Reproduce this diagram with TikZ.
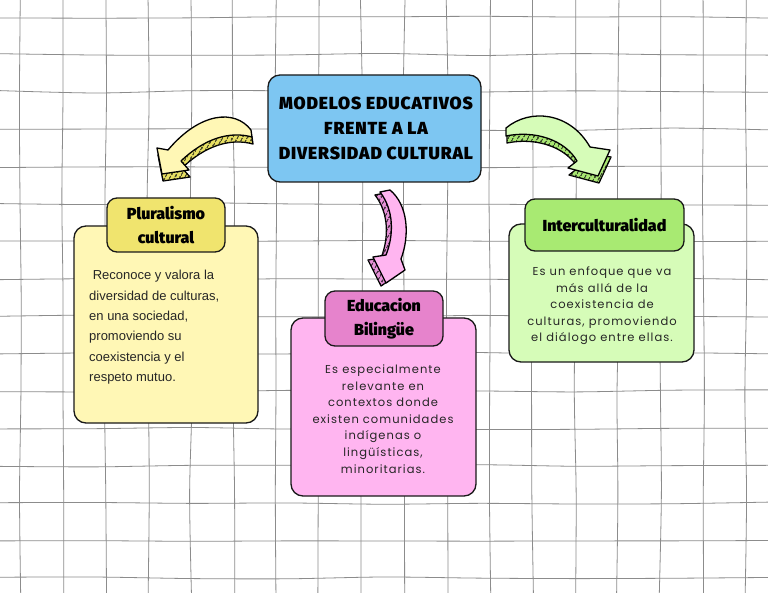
\documentclass[tikz,border=0pt]{standalone}
\usepackage{fontspec}
\setmainfont{Liberation Sans}
\IfFontExistsTF{Fira Sans Black}
  {\newfontfamily\headfont{Fira Sans Black}\newfontfamily\titlefont{Fira Sans Black}[LetterSpace=5]}
  {\newfontfamily\headfont{Fira Sans}[UprightFont={* Bold}]\newfontfamily\titlefont{Fira Sans}[UprightFont={* Bold},LetterSpace=5]}
\newfontfamily\notefont{Poppins}[LetterSpace=9]
\usepackage{tikz}
\usetikzlibrary{positioning,patterns.meta}

\definecolor{titleblue}{RGB}{125,198,242}
\definecolor{plurtab}{RGB}{240,228,110}
\definecolor{plurbody}{RGB}{255,247,181}
\definecolor{edutab}{RGB}{230,131,204}
\definecolor{edubody}{RGB}{255,181,240}
\definecolor{intertab}{RGB}{168,234,114}
\definecolor{interbody}{RGB}{214,252,184}
\definecolor{yside}{RGB}{232,224,96}
\definecolor{gside}{RGB}{168,232,112}
\definecolor{pside}{RGB}{232,144,216}

% arrow outlines, in picture pixels
\newcommand\yellowshape{(251,130) .. controls (235,109) and (200,112) .. (168,150) -- (157,148) -- (162,174) -- (189,170) -- (181,161) .. controls (205,138) and (230,131) .. (252,137) -- cycle}
\newcommand\greenshape{(506,128) .. controls (530,108) and (570,112) .. (590,147) -- (610,150) -- (598,176) -- (568,168) -- (577,161) .. controls (565,140) and (535,130) .. (506,136) -- cycle}
\newcommand\pinkshape{(380,192) -- (390,190) .. controls (408,205) and (410,235) .. (401,259) -- (405,270) -- (386,283) -- (373,257) -- (386,255) .. controls (394,235) and (394,210) .. (380,192) -- cycle}

\begin{document}
\begin{tikzpicture}[x=1pt,y=-1pt,
 gridline/.style={draw=black!45,line width=.8pt},
 card/.style={draw=black!90,line width=1.3pt,rounded corners=12pt,inner sep=0pt},
 tab/.style={card,rounded corners=10pt,align=center,font=\headfont\fontsize{16}{23.5}\selectfont},
 face/.style={fill=#1,draw=black,line width=1.3pt,line join=round},
 side/.style={fill=#1,draw=black,line width=1.3pt,line join=round,
   postaction={pattern={Lines[angle=60,distance=4pt,line width=1.2pt]},pattern color=black}},
 note/.style={inner sep=0pt,align=center,text=black!85,font=\notefont\fontsize{11.5}{16.6}\selectfont}]
\fill[white] (0,0) rectangle (768,593);
\useasboundingbox (0,0) rectangle (768,593);

% paper grid, slightly hand drawn
\pgfmathsetseed{7}
\foreach \i in {0,...,17}
  \draw[gridline] plot[smooth,samples=7,domain=0:593,variable=\t] ({20+42.7*\i+1.2*rand},\t);
\foreach \j in {0,...,15}
  \draw[gridline] plot[smooth,samples=9,domain=0:768,variable=\t] (\t,{17+37.4*\j+1.2*rand});

% curved arrows
\path[side=yside,shift={(1,7)}] \yellowshape;
\path[face=plurbody] \yellowshape;
\path[side=gside,shift={(1,7)}] \greenshape;
\path[face=interbody] \greenshape;
\path[side=pside,shift={(-5,3)}] \pinkshape;
\path[face=edubody] \pinkshape;

% title
\node[card,fill=titleblue,minimum width=213pt,minimum height=107pt,align=center,
  font=\titlefont\fontsize{17.5}{25}\selectfont] (title) at (374.5,128.5)
  {\hspace*{3pt}MODELOS EDUCATIVOS\\\hspace*{3pt}FRENTE A LA\\\hspace*{3pt}DIVERSIDAD CULTURAL};

% cards
\node[card,fill=plurbody,minimum width=184pt,minimum height=197pt] (plurbox) at (166,324.5) {};
\node[tab,fill=plurtab,minimum width=118pt,minimum height=54pt] (plurtab) at (166,225) {Pluralismo\\cultural};
\node[inner sep=0pt,anchor=north west,align=left,text=black!85,font=\fontsize{13}{20.4}\selectfont] (plurtext) at (89,270)
  {\ Reconoce y valora la\\diversidad de culturas,\\en una sociedad,\\promoviendo su\\coexistencia y el\\respeto mutuo.};

\node[card,fill=edubody,minimum width=185pt,minimum height=178pt] (edubox) at (383.5,407) {};
\node[tab,fill=edutab,minimum width=118pt,minimum height=55pt] (edutab) at (384,318.5) {Educacion\\Bilingüe};
\node[note,anchor=north] (edutext) at (383,364.5)
  {Es especialmente\\relevante en\\contextos donde\\existen comunidades\\indígenas o\\lingüísticas,\\minoritarias.};

\node[card,fill=interbody,minimum width=185pt,minimum height=138pt] (interbox) at (601.5,293) {};
\node[tab,fill=intertab,minimum width=159pt,minimum height=52pt] (intertab) at (604.5,225) {Interculturalidad};
\node[note,anchor=north] (intertext) at (602,266.5)
  {Es un enfoque que va\\más allá de la\\coexistencia de\\culturas, promoviendo\\el diálogo entre ellas.};
\end{tikzpicture}
\end{document}
